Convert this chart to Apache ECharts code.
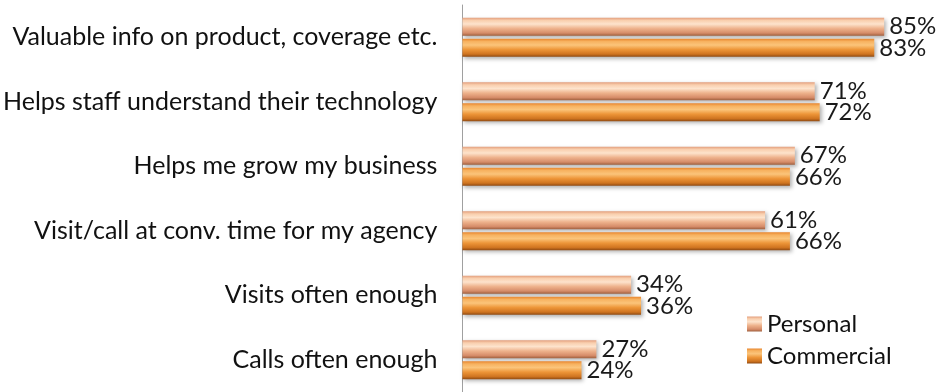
<!DOCTYPE html>
<html>
<head>
<meta charset="utf-8">
<script src="https://cdn.jsdelivr.net/npm/echarts@6/dist/echarts.min.js"></script>
<style>html,body{margin:0;padding:0;background:#fff;}#c{width:936px;height:392px;}</style>
</head>
<body>
<div id="c"></div>
<script>
var categories = [
  "Valuable info on product, coverage etc.",
  "Helps staff understand their technology",
  "Helps me grow my business",
  "Visit/call at conv. time for my agency",
  "Visits often enough",
  "Calls often enough"
];
var personal = [85, 71, 67, 61, 34, 27];
var commercial = [83, 72, 66, 66, 36, 24];
var seriesNames = ["Personal", "Commercial"];

var FONT = "Lato";
function grad(stops) {
  return new echarts.graphic.LinearGradient(0, 0, 0, 1, stops.map(function (s) { return { offset: s[0], color: s[1] }; }));
}
var personalColor = grad([[0, '#e39e7c'], [0.15, '#f9cfae'], [0.35, '#fde3cc'], [0.6, '#eeb28c'], [0.85, '#d68c69'], [1, '#a0603f']]);
var commercialColor = grad([[0, '#e8862e'], [0.15, '#f7b260'], [0.35, '#fbc47a'], [0.6, '#ed9538'], [0.85, '#cf7420'], [1, '#8f4a12']]);

var chart = echarts.init(document.getElementById('c'), null, { renderer: 'canvas' });
var labelCfg = {
  show: true, position: 'right', distance: 5,
  formatter: '{c}%', color: '#1a1a1a', fontFamily: FONT, fontSize: 24
};
chart.setOption({
  animation: false,
  backgroundColor: '#fff',
  grid: { left: 461, top: 5, width: 448, height: 399, containLabel: false },
  xAxis: { type: 'value', min: 0, max: 90, show: false, splitLine: { show: false } },
  yAxis: {
    type: 'category', data: categories, inverse: true,
    axisLine: { show: true, lineStyle: { color: '#a0a0a0', width: 1 } },
    axisTick: { show: false },
    axisLabel: { color: '#111', fontFamily: FONT, fontSize: 25, margin: 25 }
  },
  legend: {
    orient: 'vertical', left: 742, top: 307,
    itemWidth: 15, itemHeight: 15, itemGap: 8,
    icon: 'rect',
    textStyle: { color: '#111', fontFamily: FONT, fontSize: 24, padding: [0, 0, 0, 0] },
    data: seriesNames
  },
  series: [
    {
      name: seriesNames[0], type: 'bar', data: personal,
      barWidth: 18, barGap: '17%',
      itemStyle: { color: personalColor, shadowColor: 'rgba(0,0,0,0.3)', shadowBlur: 4, shadowOffsetX: 2, shadowOffsetY: 2 },
      label: labelCfg
    },
    {
      name: seriesNames[1], type: 'bar', data: commercial,
      barWidth: 18, barGap: '17%',
      itemStyle: { color: commercialColor, shadowColor: 'rgba(0,0,0,0.3)', shadowBlur: 4, shadowOffsetX: 2, shadowOffsetY: 2 },
      label: labelCfg
    }
  ]
});
</script>
</body>
</html>
